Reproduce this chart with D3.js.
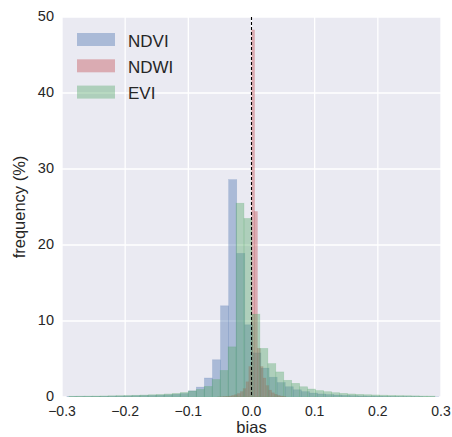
<!DOCTYPE html>
<html>
<head>
<meta charset="utf-8">
<script src="https://cdn.jsdelivr.net/npm/d3@7"></script>
<style>
  html, body { margin: 0; padding: 0; background: #fff; }
  svg { display: block; font-family: "Liberation Sans", Arial, sans-serif; }
</style>
</head>
<body>
<svg id="chart" width="452" height="437"></svg>
<script>
// --- Data: histogram bins (percent of samples) ---
const seriesNames = ["NDVI", "NDWI", "EVI"];
const seriesColors = ["#4C72B0", "#C44E52", "#55A868"];

// NDVI bins start at -0.2922, width 0.0128
const ndviStart = -0.2922;
const ndviWidth = 0.0128;
const ndviValues = [
  0.05, 0.06, 0.07, 0.08, 0.09, 0.1, 0.12, 0.14, 0.16, 0.18,
  0.2, 0.24, 0.28, 0.35, 0.45, 0.8, 1.3, 2.5, 4.9, 12.0,
  28.6, 18.9, 9.5, 5.8, 3.8, 2.6, 1.9, 1.35, 0.95, 0.7,
  0.52, 0.4, 0.32, 0.26, 0.21, 0.17, 0.14, 0.12, 0.1, 0.08,
  0.07, 0.06, 0.05, 0.04, 0.03, 0.03
];

// NDWI bins start at -0.0537, width 0.0045
const ndwiStart = -0.0537;
const ndwiWidth = 0.0045;
const ndwiValues = [
  0.02, 0.03, 0.05, 0.08, 0.12, 0.2, 0.3, 0.45, 0.7, 1.1,
  2.0, 4.0, 48.3, 24.4, 6.4, 4.0, 2.5, 1.5, 0.9, 0.55,
  0.35, 0.2, 0.12, 0.06
];

// EVI bins start at -0.2891, width 0.0126
const eviStart = -0.2891;
const eviWidth = 0.0126;
const eviValues = [
  0.1, 0.11, 0.12, 0.13, 0.14, 0.16, 0.18, 0.2, 0.23, 0.26,
  0.3, 0.34, 0.4, 0.48, 0.6, 0.8, 1.0, 1.4, 2.3, 3.5,
  6.6, 25.5, 23.5, 10.9, 6.4, 4.4, 3.3, 2.2, 1.8, 1.35,
  1.05, 0.85, 0.7, 0.57, 0.48, 0.4, 0.35, 0.3, 0.27, 0.24,
  0.21, 0.19, 0.17, 0.15, 0.13, 0.12
];

const xTicks = [-0.3, -0.2, -0.1, 0.0, 0.1, 0.2, 0.3];
const yTicks = [0, 10, 20, 30, 40, 50];

// --- Layout ---
const margin = { top: 17, right: 11, bottom: 40, left: 62 };
const svgWidth = 452, svgHeight = 437;
const width = svgWidth - margin.left - margin.right;
const height = svgHeight - margin.top - margin.bottom;

const svg = d3.select("#chart");
const g = svg.append("g").attr("transform", `translate(${margin.left},${margin.top})`);

const x = d3.scaleLinear().domain([-0.3, 0.3]).range([0, width]);
const y = d3.scaleLinear().domain([0, 50]).range([height, 0]);

// Background
g.append("rect")
  .attr("width", width)
  .attr("height", height)
  .attr("fill", "#EAEAF2");

// Grid
g.selectAll(".xgrid").data(xTicks).enter().append("line")
  .attr("x1", d => x(d)).attr("x2", d => x(d))
  .attr("y1", 0).attr("y2", height)
  .attr("stroke", "#fff").attr("stroke-width", 1.3);
g.selectAll(".ygrid").data(yTicks).enter().append("line")
  .attr("y1", d => y(d)).attr("y2", d => y(d))
  .attr("x1", 0).attr("x2", width)
  .attr("stroke", "#fff").attr("stroke-width", 1.3);

// Build bins
function makeBins(start, w, values) {
  return values.map((v, i) => ({ x0: start + i * w, x1: start + (i + 1) * w, v }));
}
const series = [
  makeBins(ndviStart, ndviWidth, ndviValues),
  makeBins(ndwiStart, ndwiWidth, ndwiValues),
  makeBins(eviStart, eviWidth, eviValues)
];

g.append("clipPath").attr("id", "plot-clip")
  .append("rect").attr("width", width).attr("height", height);

const barsG = g.append("g").attr("clip-path", "url(#plot-clip)");
series.forEach((bins, si) => {
  barsG.append("g")
    .selectAll("rect")
    .data(bins)
    .enter().append("rect")
    .attr("x", d => x(d.x0))
    .attr("width", d => x(d.x1) - x(d.x0))
    .attr("y", d => y(d.v))
    .attr("height", d => y(0) - y(d.v))
    .attr("fill", seriesColors[si])
    .attr("fill-opacity", 0.4)
    .attr("stroke", seriesColors[si])
    .attr("stroke-opacity", 0.25)
    .attr("stroke-width", 0.6);
});

// Dashed zero line
g.append("line")
  .attr("x1", x(0)).attr("x2", x(0))
  .attr("y1", 0).attr("y2", height)
  .attr("stroke", "#000")
  .attr("stroke-width", 1.1)
  .attr("stroke-dasharray", "3,2");

// Tick labels
const fmt = d => (d < 0 ? "\u2212" : "") + Math.abs(d).toFixed(1);
g.selectAll(".xtick").data(xTicks).enter().append("text")
  .attr("x", d => x(d))
  .attr("y", height + 19)
  .attr("text-anchor", "middle")
  .attr("font-size", "14px")
  .attr("fill", "#262626")
  .text(fmt);
g.selectAll(".ytick").data(yTicks).enter().append("text")
  .attr("x", -8)
  .attr("y", d => y(d) + 3.5)
  .attr("text-anchor", "end")
  .attr("font-size", "14.5px")
  .attr("fill", "#262626")
  .text(d => d);

// Axis labels
g.append("text")
  .attr("x", width / 2)
  .attr("y", height + 36)
  .attr("text-anchor", "middle")
  .attr("font-size", "16.5px")
  .attr("fill", "#262626")
  .text("bias");
g.append("text")
  .attr("transform", `translate(${-37},${height / 2}) rotate(-90)`)
  .attr("text-anchor", "middle")
  .attr("font-size", "16.5px")
  .attr("fill", "#262626")
  .text("frequency (%)");

// Legend
const legend = g.append("g").attr("transform", "translate(15,16)");
seriesNames.forEach((name, i) => {
  const row = legend.append("g").attr("transform", `translate(0,${i * 26.3})`);
  row.append("rect")
    .attr("width", 38).attr("height", 13)
    .attr("fill", seriesColors[i])
    .attr("fill-opacity", 0.4);
  row.append("text")
    .attr("x", 51).attr("y", 13.5)
    .attr("font-size", "17px")
    .attr("fill", "#262626")
    .text(name);
});
</script>
</body>
</html>
